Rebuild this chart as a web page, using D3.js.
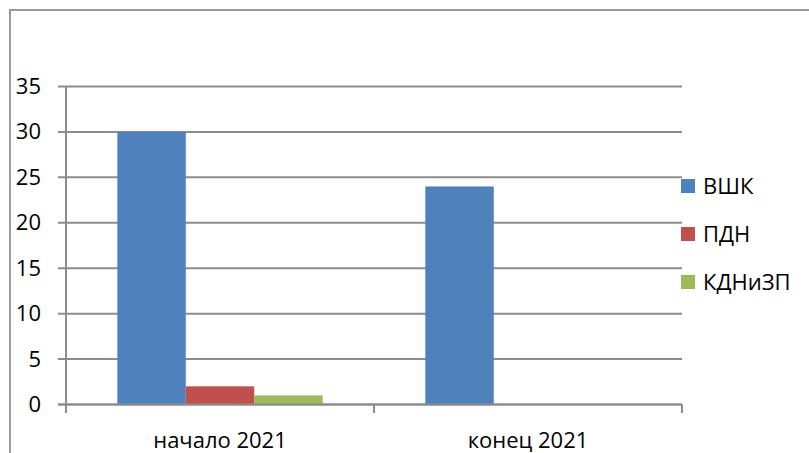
<!DOCTYPE html>
<html>
<head>
<meta charset="utf-8">
<script src="https://cdn.jsdelivr.net/npm/d3@7"></script>
<style>
  body { margin: 0; background: #fff; }
  text { font-family: "Open Sans", "Liberation Sans", sans-serif; fill: #000; }
</style>
</head>
<body>
<svg id="chart" width="809" height="453"></svg>
<script>
// categories, series and ticks
var categories = ["начало 2021", "конец 2021"];
var seriesNames = ["ВШК", "ПДН", "КДНиЗП"];
var seriesColors = ["#4f81bd", "#c0504d", "#9bbb59"];
var vshk = [30, 24];
var pdn = [2, 0];
var kdn = [1, 0];
var yTicks = [0, 5, 10, 15, 20, 25, 30, 35];

var values = [vshk, pdn, kdn];

var svg = d3.select("#chart");

// outer frame of the chart (cut off at right and bottom)
svg.append("path")
  .attr("d", "M10,453 L10,10 L809,10")
  .attr("fill", "none")
  .attr("stroke", "#999")
  .attr("stroke-width", 2);

var x = d3.scaleBand().domain(categories).range([66, 682]).paddingInner(0).paddingOuter(0);
var y = d3.scaleLinear().domain([0, 35]).range([404.5, 86.5]);

// gridlines
svg.selectAll(".grid")
  .data(yTicks)
  .enter()
  .append("line")
    .attr("x1", 58)
    .attr("x2", 682)
    .attr("y1", function(d){ return y(d) })
    .attr("y2", function(d){ return y(d) })
    .attr("stroke", "#8c8c8c")
    .attr("stroke-width", 2);

// y axis line
svg.append("line")
  .attr("x1", 66).attr("x2", 66)
  .attr("y1", y(35)).attr("y2", 413)
  .attr("stroke", "#8c8c8c")
  .attr("stroke-width", 2);

// y labels
svg.selectAll(".ylab")
  .data(yTicks)
  .enter()
  .append("text")
    .attr("x", 41)
    .attr("y", function(d){ return y(d) + 7.5 })
    .attr("text-anchor", "end")
    .style("font-size", "22px")
    .text(function(d){ return d });

// category ticks
svg.selectAll(".xtick")
  .data([66, 374, 682])
  .enter()
  .append("line")
    .attr("x1", function(d){ return d })
    .attr("x2", function(d){ return d })
    .attr("y1", 404.5)
    .attr("y2", 413)
    .attr("stroke", "#8c8c8c")
    .attr("stroke-width", 2);

// bars: gap width 150% => bar = band / 4.5
var bw = x.bandwidth() / 4.5;
values.forEach(function(s, i) {
  svg.selectAll(".bar" + i)
    .data(s)
    .enter()
    .append("rect")
      .attr("x", function(d, j){ return x(categories[j]) + bw * 0.75 + i * bw })
      .attr("y", function(d){ return y(d) })
      .attr("width", bw)
      .attr("height", function(d){ return y(0) - y(d) })
      .attr("fill", seriesColors[i]);
});

// x axis line on top of bars
svg.append("line")
  .attr("x1", 58).attr("x2", 682)
  .attr("y1", 404.5).attr("y2", 404.5)
  .attr("stroke", "#8c8c8c")
  .attr("stroke-width", 2);

// category labels
svg.selectAll(".xlab")
  .data(categories)
  .enter()
  .append("text")
    .attr("x", function(d){ return x(d) + x.bandwidth() / 2 })
    .attr("y", 448)
    .attr("text-anchor", "middle")
    .style("font-size", "22px")
    .text(function(d){ return d });

// legend
var legend = svg.selectAll(".leg")
  .data(seriesNames)
  .enter()
  .append("g")
    .attr("transform", function(d, i){ return "translate(681," + (179 + i * 48) + ")" });

legend.append("rect")
  .attr("width", 14)
  .attr("height", 14)
  .attr("fill", function(d, i){ return seriesColors[i] });

legend.append("text")
  .attr("x", 22)
  .attr("y", 15)
  .style("font-size", "22px")
  .text(function(d){ return d });
</script>
</body>
</html>
